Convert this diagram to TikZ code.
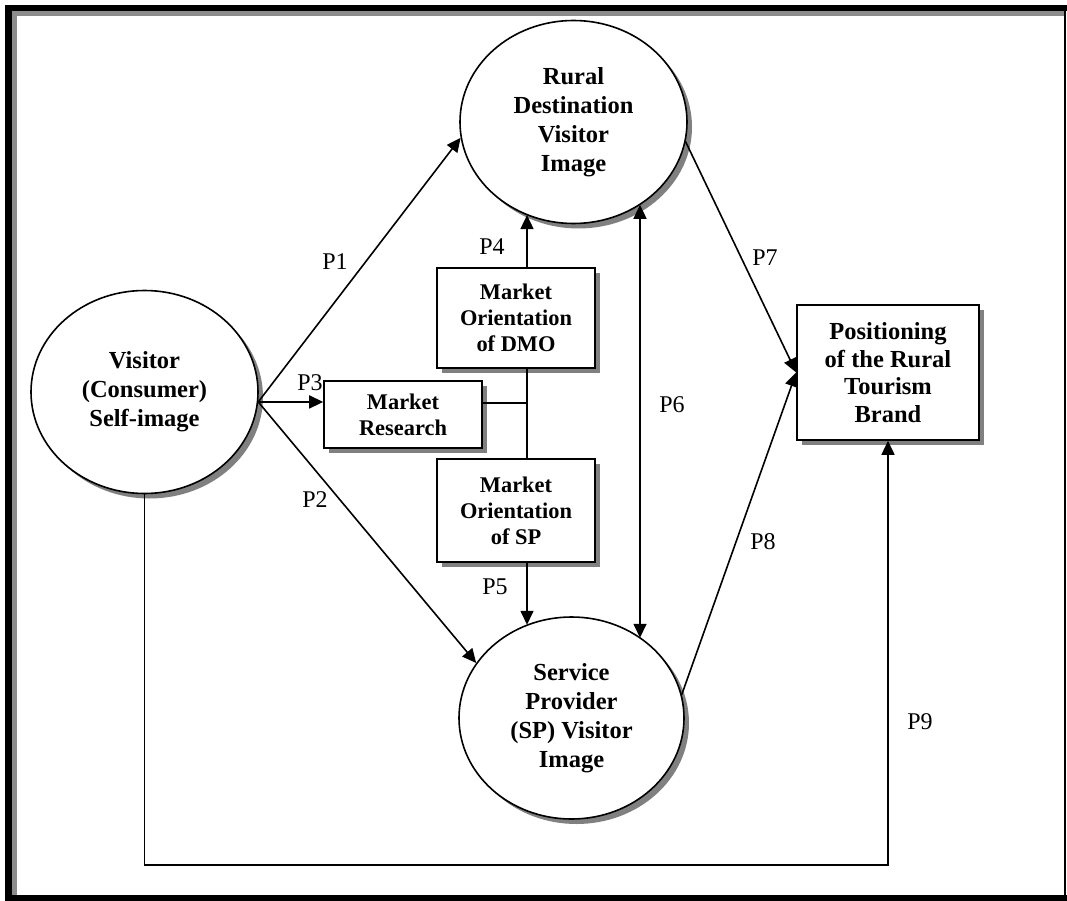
\documentclass[tikz,border=0pt]{standalone}
\usepackage{fontspec}
\setmainfont{Liberation Serif}
\usetikzlibrary{positioning, shapes.geometric, arrows.meta, shadows}

\tikzset{
  boxshadow/.style={drop shadow={shadow xshift=5pt, shadow yshift=-5pt, fill=black!50, opacity=1}},
  concept/.style={ellipse, draw, line width=1.6pt, fill=white, inner sep=0pt,
    minimum width=227pt, minimum height=203pt, align=center,
    font=\bfseries\fontsize{24.5}{29}\selectfont, boxshadow},
  factor/.style={rectangle, draw, line width=1.6pt, fill=white, inner sep=0pt,
    align=center, font=\bfseries\fontsize{22.4}{26}\selectfont, boxshadow},
  plabel/.style={font=\fontsize{24}{28}\selectfont, inner sep=0pt},
  link/.style={line width=1.6pt, -{Triangle[length=14pt,width=13pt]}},
  plain/.style={line width=1.6pt}
}

\begin{document}
\begin{tikzpicture}[x=1pt, y=-1pt]
  \useasboundingbox (0,0) rectangle (1067,901);

  % Frame
  \fill[black!45] (12,11) rectangle (17,895);
  \fill[black!45] (12,11) rectangle (1064,16);
  \fill (5,5) rectangle (12,901);
  \fill (5,5) rectangle (1067,11);
  \fill (5,895) rectangle (1067,901);
  \fill (1064,11) rectangle (1066,895);

  % Define the constructs
  \node[concept] (visitor) at (144.5,392) {Visitor\\(Consumer)\\Self-image};
  \node[concept] (rural) at (573.5,122) {Rural\\Destination\\Visitor\\Image};
  \node[concept, minimum width=225pt, minimum height=202pt] (spimg) at (571.5,718)
    {Service\\Provider\\(SP) Visitor\\Image};

  \node[factor, minimum width=158pt, minimum height=100pt] (dmo) at (516,318)
    {Market\\Orientation\\of DMO};
  \node[factor, minimum width=158pt, minimum height=67pt] (mr) at (403,414.5)
    {Market\\Research};
  \node[factor, minimum width=158pt, minimum height=103pt] (spbox) at (516,510.5)
    {Market\\Orientation\\of SP};
  \node[factor, minimum width=182pt, minimum height=135pt,
    font=\bfseries\fontsize{24.5}{27.7}\selectfont] (pos) at (888,372.5)
    {Positioning\\of the Rural\\Tourism\\Brand};

  % Define the junctions
  \coordinate (start) at (visitor.-5);
  \coordinate (jn) at (527,403);
  \coordinate (p6) at (640,403);
  \coordinate (bl) at (0,865);

  % Draw the links
  \draw[link] (start) -- (rural.188);
  \draw[link] (start) -- (spimg.150);
  \draw[link] (start) -- (start -| mr.west);
  \draw[plain] (mr.east |- jn) -- (jn);
  \draw[plain] (jn |- dmo.south) -- (jn |- spbox.north);
  \draw[link] (jn |- dmo.north) -- (jn |- rural.-117);
  \draw[link] (jn |- spbox.south) -- (jn |- spimg.116);
  \draw[line width=1.6pt, {Triangle[length=14pt,width=13pt]}-{Triangle[length=14pt,width=13pt]}]
    (p6 |- rural.-51) -- (p6 |- spimg.49);
  \draw[link] (rural.-10) -- (pos.west);
  \draw[link] (spimg.12) -- (pos.west);
  \draw[link] (visitor.south) -- (visitor.south |- bl) -| (pos.south);

  % Labels
  \node[plabel] (lp1) at (335,262) {P1};
  \node[plabel] (lp2) at (315,500) {P2};
  \node[plabel] (lp3) at (310,383) {P3};
  \node[plabel] (lp4) at (492,247) {P4};
  \node[plabel] (lp5) at (495,587) {P5};
  \node[plabel] (lp6) at (672,405) {P6};
  \node[plabel] (lp7) at (765,258) {P7};
  \node[plabel] (lp8) at (763,542) {P8};
  \node[plabel] (lp9) at (920,722) {P9};
\end{tikzpicture}
\end{document}
